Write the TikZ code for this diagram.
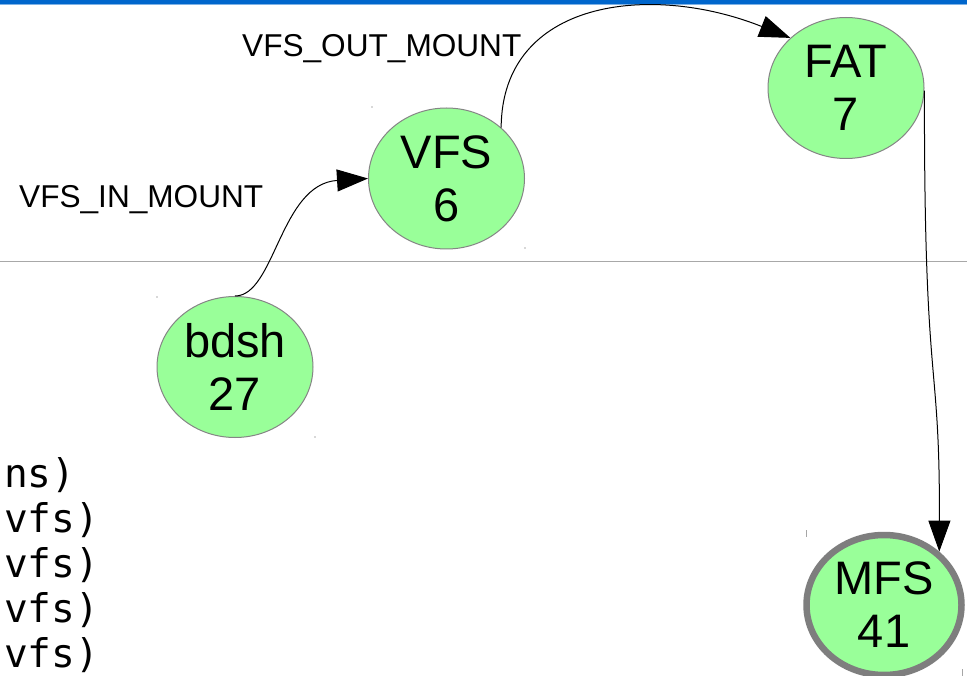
\documentclass[tikz,border=0pt]{standalone}
\usepackage{fontspec}
\setmainfont{Liberation Sans}
\newfontfamily\monofont{DejaVu Sans Mono}
\usetikzlibrary{arrows.meta,shapes.geometric}
\definecolor{nodegreen}{HTML}{99FF99}
\definecolor{rimgray}{HTML}{858585}
\definecolor{barblue}{HTML}{0066CC}
\definecolor{barlight}{HTML}{7FB2E5}
\definecolor{rulegray}{HTML}{A8A8A8}
\tikzset{
  proc/.style={ellipse, draw=rimgray, line width=1pt, fill=nodegreen,
    minimum width=156pt, minimum height=141pt, inner sep=0pt,
    align=center, font=\fontsize{47}{53}\selectfont},
  current/.style={proc, line width=6.5pt, draw=rimgray!95!black,
    minimum width=155pt, minimum height=140pt},
  edge/.style={line width=1pt, black,
    -{Triangle[length=31pt,width=22pt]}},
  msglabel/.style={anchor=base west, inner sep=0pt,
    font=\fontsize{31.6}{36}\selectfont},
  logline/.style={anchor=base west, inner sep=0pt,
    font=\monofont\fontsize{39.5}{45}\selectfont},
  speck/.style={draw=gray!70, line width=0.8pt}
}
\begin{document}
\begin{tikzpicture}[x=1pt,y=-1pt]
\useasboundingbox (0,0) rectangle (967,676);
\fill[white] (0,0) rectangle (967,676);

% window title bar edge
\fill[barblue] (0,0) rectangle (967,4);
\fill[barlight] (0,4) rectangle (967,5.5);

% divider
\draw[rulegray, line width=1pt] (0,262) -- (967,262);

% processes
\node[proc] (vfs) at (446.5,178.5) {VFS\\6};
\node[proc] (fat) at (846,88) {FAT\\7};
\node[proc] (bdsh) at (235,367) {bdsh\\27};
\node[current] (mfs) at (884,605) {MFS\\41};

% messages
\draw[edge] (bdsh.north) .. controls (275,296) and (280,184) .. (vfs.west);
\draw[edge] (vfs.43) .. controls (502,0) and (650,-18) .. (fat.138);
\draw[edge] (fat.-2) .. controls (924,400) and (940,350) .. (mfs.44);

% message labels
\node[msglabel] (inlbl) at (19,208) {VFS\_IN\_MOUNT};
\node[msglabel] (outlbl) at (242,57) {VFS\_OUT\_MOUNT};

% log lines
\node[logline] (l1) at (4,487) {ns)};
\node[logline] (l2) at (4,532) {vfs)};
\node[logline] (l3) at (4,577) {vfs)};
\node[logline] (l4) at (4,622) {vfs)};
\node[logline] (l5) at (4,667) {vfs)};

% small marks
\draw[speck] (806,530) -- (806,537);
\draw[speck] (962,669) -- (962,676);
\fill[gray!60] (157,297) circle (0.8);
\fill[gray!60] (315,437) circle (0.8);
\fill[gray!60] (525,248) circle (0.8);
\fill[gray!60] (372,107) circle (0.8);
\end{tikzpicture}
\end{document}
